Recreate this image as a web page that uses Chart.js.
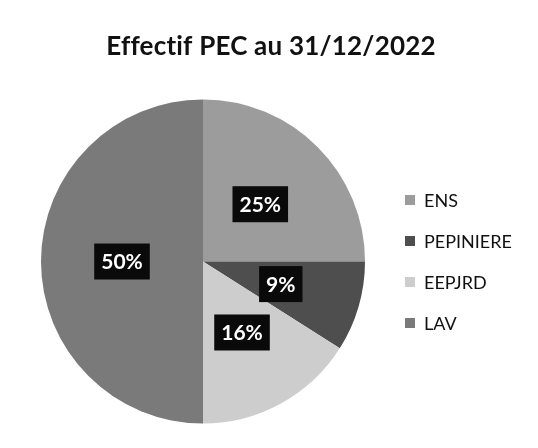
<!DOCTYPE html>
<html><head><meta charset="utf-8">
<script src="https://cdn.jsdelivr.net/npm/chart.js@4.4.0/dist/chart.umd.min.js"></script>
<style>html,body{margin:0;padding:0;background:#fff;}#wrap{width:538px;height:448px;}</style>
</head><body><div id="wrap"><canvas id="c" width="538" height="448"></canvas></div>
<script>
const categories = ["ENS", "PEPINIERE", "EEPJRD", "LAV"];
const values = [25, 9, 16, 50];
const colors = ["#9c9c9c", "#4e4e4e", "#cdcdcd", "#7a7a7a"];
const titleText = "Effectif PEC au 31/12/2022";

const overlay = {
  id: 'overlay',
  afterDatasetsDraw(chart) {
    const ctx = chart.ctx;
    const meta = chart.getDatasetMeta(0);
    const total = values.reduce((a, b) => a + b, 0);
    ctx.save();
    ctx.font = "bold 21px Lato";
    ctx.textAlign = "center";
    ctx.textBaseline = "middle";
    meta.data.forEach((arc, i) => {
      const p = arc.tooltipPosition();
      const txt = Math.round(values[i] / total * 100) + "%";
      const w = ctx.measureText(txt).width + 14;
      const h = 36;
      ctx.fillStyle = "#0a0a0a";
      ctx.fillRect(p.x - w / 2, p.y - h / 2, w, h);
      ctx.fillStyle = "#ffffff";
      ctx.fillText(txt, p.x, p.y + 1);
    });
    // title
    ctx.fillStyle = "#111";
    ctx.font = "bold 26px Lato";
    if ('letterSpacing' in ctx) ctx.letterSpacing = "0.2px";
    ctx.fillText(titleText, 271, 47);
    if ('letterSpacing' in ctx) ctx.letterSpacing = "0px";
    // legend
    ctx.font = "18px Lato";
    ctx.textAlign = "left";
    categories.forEach((c, i) => {
      const y = 200 + i * 41;
      ctx.fillStyle = colors[i];
      ctx.fillRect(405, y - 5, 10, 10);
      ctx.fillStyle = "#111";
      ctx.fillText(c, 424, y + 1);
    });
    ctx.restore();
  }
};

new Chart(document.getElementById('c'), {
  type: 'pie',
  data: {
    labels: categories,
    datasets: [{ data: values, backgroundColor: colors, borderWidth: 0 }]
  },
  options: {
    responsive: false,
    animation: false,
    layout: { padding: { left: 41, right: 173, top: 99, bottom: 24 } },
    plugins: { legend: { display: false }, title: { display: false }, tooltip: { enabled: false } }
  },
  plugins: [overlay]
});
</script></body></html>
